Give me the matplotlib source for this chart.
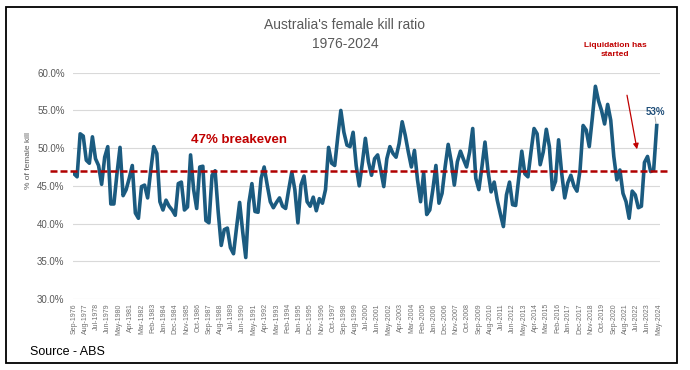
import matplotlib
matplotlib.use("Agg")
import matplotlib.pyplot as plt
from matplotlib.patches import Rectangle
import pandas as pd
import numpy as np

# ---------------- data (quarterly, from Sep-1976) ----------------
start_date = "1976-09-01"
female_kill_pct = [
    46.6, 46.2, 51.9, 51.6, 48.4, 48.0, 51.5, 48.6, 47.7, 45.2,
    48.8, 50.2, 42.6, 42.6, 46.6, 50.1, 43.7, 44.5, 46.0, 47.7,
    41.4, 40.7, 44.9, 45.1, 43.4, 47.0, 50.2, 49.3, 42.9, 41.8,
    43.1, 42.3, 41.8, 41.1, 45.3, 45.5, 41.8, 42.2, 49.1, 44.5,
    42.0, 47.5, 47.6, 40.4, 40.1, 46.4, 47.0, 41.6, 37.1, 39.2,
    39.4, 36.8, 36.0, 39.5, 42.8, 38.9, 35.5, 42.7, 45.3, 41.6,
    41.5, 46.0, 47.5, 45.1, 42.9, 42.1, 42.8, 43.4, 42.3, 42.0,
    44.5, 46.8, 44.5, 40.1, 45.1, 46.3, 42.9, 42.3, 43.5, 41.7,
    43.3, 42.7, 44.5, 50.1, 48.0, 47.7, 51.5, 55.0, 52.1, 50.4,
    50.2, 52.1, 47.7, 45.0, 48.0, 51.3, 48.2, 46.4, 48.6, 49.1,
    47.1, 44.9, 48.6, 50.2, 49.3, 48.8, 50.6, 53.5, 51.7, 49.5,
    47.5, 49.7, 45.8, 42.9, 46.7, 41.2, 41.8, 44.5, 47.7, 42.7,
    44.0, 47.5, 50.5, 48.2, 45.1, 48.2, 49.6, 48.5, 47.5, 49.5,
    52.6, 46.0, 44.5, 47.5, 50.8, 46.9, 44.2, 45.5, 43.1, 41.3,
    39.6, 43.8, 45.5, 42.5, 42.4, 46.0, 49.6, 46.6, 46.2, 49.5,
    52.6, 51.9, 47.8, 49.5, 52.5, 50.2, 44.5, 45.6, 51.1, 46.7,
    43.4, 45.4, 46.4, 45.0, 44.3, 47.1, 53.0, 52.4, 50.2, 54.0,
    58.2, 56.3, 55.0, 53.2, 55.8, 53.7, 48.9, 45.8, 47.1, 44.0,
    42.9, 40.7, 44.3, 43.8, 42.1, 42.3, 48.1, 48.9, 46.9, 47.1,
    53.0,
]
breakeven = 47.0
tick_labels = [
    "Sep-1976", "Aug-1977", "Jul-1978", "Jun-1979", "May-1980", "Apr-1981",
    "Mar-1982", "Feb-1983", "Jan-1984", "Dec-1984", "Nov-1985", "Oct-1986",
    "Sep-1987", "Aug-1988", "Jul-1989", "Jun-1990", "May-1991", "Apr-1992",
    "Mar-1993", "Feb-1994", "Jan-1995", "Dec-1995", "Nov-1996", "Oct-1997",
    "Sep-1998", "Aug-1999", "Jul-2000", "Jun-2001", "May-2002", "Apr-2003",
    "Mar-2004", "Feb-2005", "Jan-2006", "Dec-2006", "Nov-2007", "Oct-2008",
    "Sep-2009", "Aug-2010", "Jul-2011", "Jun-2012", "May-2013", "Apr-2014",
    "Mar-2015", "Feb-2016", "Jan-2017", "Dec-2017", "Nov-2018", "Oct-2019",
    "Sep-2020", "Aug-2021", "Jul-2022", "Jun-2023", "May-2024",
]
y_ticks = [30, 35, 40, 45, 50, 55, 60]

# ---------------- positions (months since start) ----------------
t0 = pd.Timestamp(start_date)
dates = pd.date_range(start_date, periods=len(female_kill_pct), freq="3MS")
x_data = (dates.year - t0.year) * 12 + (dates.month - t0.month)
tick_dates = pd.to_datetime(tick_labels, format="%b-%Y")
x_ticks = (tick_dates.year - t0.year) * 12 + (tick_dates.month - t0.month)

W, H = 690, 370
plt.rcParams["font.family"] = ["Liberation Sans", "DejaVu Sans"]
fig = plt.figure(figsize=(W / 100, H / 100), dpi=100)
fig.patch.set_facecolor("white")

def fx(px):
    return px / W

def fy(py):
    return 1 - py / H

ax = fig.add_axes([fx(73), fy(299), fx(660) - fx(73), fy(72.7) - fy(299)])
ax.set_facecolor("white")

line_color = "#1b5b80"
red = "#c00000"
gray = "#595959"

ax.plot(x_data, female_kill_pct, color=line_color, lw=2.6, solid_joinstyle="round", zorder=3)

ax.set_ylim(30, 60)
ax.set_xlim(-1, 573.2)
ax.set_yticks(y_ticks)
ax.set_yticklabels([f"{v:.1f}%" for v in y_ticks], fontsize=7, color=gray)
ax.set_xticks(x_ticks)
ax.set_xticklabels(tick_labels, rotation=90, fontsize=5, color="#707070")
ax.tick_params(axis="both", length=0, pad=3)
ax.tick_params(axis="y", pad=6)
ax.grid(axis="y", color="#d9d9d9", lw=0.8)
ax.grid(axis="x", visible=False)
ax.set_axisbelow(True)
for s in ax.spines.values():
    s.set_visible(False)

# breakeven dashed line (extends slightly beyond plot area)
ax.plot([-23.5, 580], [breakeven, breakeven], color="#b00000", lw=1.8,
        dashes=(2.8, 1.2), clip_on=False, zorder=4)

ax.set_ylabel("% of female kill", fontsize=6, color=gray)
ax.yaxis.set_label_coords(-0.07, 0.61)

# titles and annotations
fig.text(fx(345), fy(25), "Australia's female kill ratio", ha="center", va="center",
         fontsize=10, color=gray)
fig.text(fx(345), fy(44), "1976-2024", ha="center", va="center", fontsize=10, color=gray)
fig.text(fx(191), fy(140), "47% breakeven", ha="left", va="center", fontsize=9.5,
         color=red, fontweight="bold")
fig.text(fx(615), fy(50), "Liquidation has\nstarted", ha="center", va="center",
         fontsize=6, color=red, fontweight="bold", linespacing=1.4)
fig.text(fx(655), fy(112), "53%", ha="center", va="center", fontsize=7,
         color="#1f4e79", fontweight="bold")
fig.add_artist(plt.Line2D([fx(655), fx(656)], [fy(117), fy(123)], color="#a6a6a6", lw=0.6,
                          transform=fig.transFigure))
fig.add_artist(matplotlib.patches.FancyArrowPatch(
    (fx(626.5), fy(92.5)), (fx(637.5), fy(152)), transform=fig.transFigure,
    arrowstyle="-|>", mutation_scale=8, color=red, lw=0.9))
fig.text(fx(30), fy(352), "Source - ABS", ha="left", va="center", fontsize=9, color="black")

# outer frame
fig.add_artist(Rectangle((fx(6), fy(363)), fx(677) - fx(6), fy(7) - fy(363),
                         transform=fig.transFigure, fill=False, ec="black", lw=1.3))

fig.savefig("out.png", dpi=100, facecolor="white")
